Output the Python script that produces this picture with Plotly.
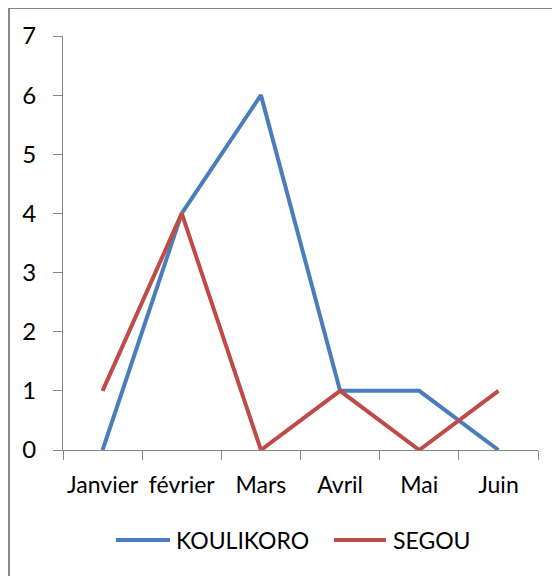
import plotly.graph_objects as go

months = ["Janvier", "février", "Mars", "Avril", "Mai", "Juin"]
koulikoro = [0, 4, 6, 1, 1, 0]
segou = [1, 4, 0, 1, 0, 1]
y_ticks = [0, 1, 2, 3, 4, 5, 6, 7]
series_names = ["KOULIKORO", "SEGOU"]
series_colors = ["#4A7EBB", "#BE4B48"]

# page has an 8px body margin, so the figure is 8px smaller than the window
W, H = 552, 568
L, R, T, B = 55, 22, 28, 126
pw = W - L - R
ph = H - T - B

fig = go.Figure()
for name, vals, col in zip(series_names, [koulikoro, segou], series_colors):
    fig.add_trace(go.Scatter(x=months, y=vals, mode="lines", name=name,
                             line=dict(color=col, width=4), showlegend=False))

axis_col = "#868686"
font_family = "Lato, Open Sans, Liberation Sans, sans-serif"

def px_x(p):
    return (p - L) / pw

def px_y(p):
    return (H - B - p) / ph

shapes = [dict(type="rect", xref="paper", yref="paper",
               x0=px_x(1), y0=px_y(700), x1=px_x(700), y1=px_y(0),
               line=dict(color="#888888", width=2), fillcolor="rgba(0,0,0,0)")]
annotations = []
legend_y = 532
legend_pos = [(108, 162, 166), (326, 378, 383)]
for name, col, (lx0, lx1, tx) in zip(series_names, series_colors, legend_pos):
    shapes.append(dict(type="line", xref="paper", yref="paper",
                       x0=px_x(lx0), x1=px_x(lx1), y0=px_y(legend_y), y1=px_y(legend_y),
                       line=dict(color=col, width=4)))
    annotations.append(dict(text=name, xref="paper", yref="paper",
                            x=px_x(tx), y=px_y(legend_y), xanchor="left", yanchor="middle",
                            showarrow=False, font=dict(size=23, color="#000000")))

fig.update_layout(
    width=W, height=H,
    margin=dict(l=L, r=R, t=T, b=B, autoexpand=False),
    paper_bgcolor="white", plot_bgcolor="white",
    font=dict(family=font_family, size=23, color="#000000"),
    xaxis=dict(type="category", range=[-0.5, 5.5], showgrid=False, zeroline=False,
               showline=True, linecolor=axis_col, linewidth=1,
               ticks="outside", tickson="boundaries", ticklen=9, tickcolor=axis_col,
               tickfont=dict(size=23), tickangle=0, ticklabelstandoff=14, fixedrange=True),
    yaxis=dict(range=[0, 7], tickvals=y_ticks, showgrid=False, zeroline=False,
               showline=True, linecolor=axis_col, linewidth=1,
               ticks="outside", ticklen=9, tickcolor=axis_col,
               tickfont=dict(size=24), ticklabelstandoff=12, fixedrange=True),
    showlegend=False,
    shapes=shapes,
    annotations=annotations,
)

fig.write_html("out.html")
